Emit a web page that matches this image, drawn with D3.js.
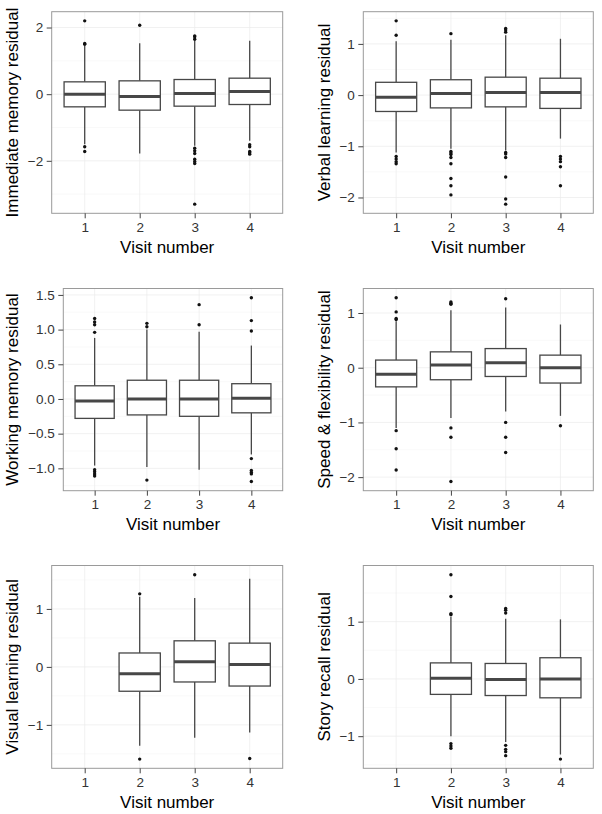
<!DOCTYPE html>
<html><head><meta charset="utf-8">
<script src="https://cdn.jsdelivr.net/npm/d3@7"></script>
<style>body{margin:0;background:#fff}svg{display:block}</style>
</head><body><svg id="c" width="602" height="814"></svg>
<script>
// ---------- DATA ----------
const visits = ["1", "2", "3", "4"];
const xTitle = "Visit number";
const panelTitles = ["Immediate memory residual", "Verbal learning residual", "Working memory residual",
  "Speed & flexibility residual", "Visual learning residual", "Story recall residual"];

// box stats: [visit, lowerWhisker, q1, median, q3, upperWhisker]
const immediateMemoryBoxes = [
  ["1", -1.50, -0.38, 0.00, 0.37, 1.45],
  ["2", -1.78, -0.48, -0.07, 0.40, 1.53],
  ["3", -1.55, -0.36, 0.02, 0.44, 1.60],
  ["4", -1.40, -0.31, 0.08, 0.48, 1.60]];
const immediateMemoryOutliers = [
  ["1", 2.20], ["1", 1.52], ["1", 1.50], ["1", -1.58], ["1", -1.72],
  ["2", 2.07],
  ["3", 1.65], ["3", 1.72], ["3", 1.75], ["3", -1.62], ["3", -1.70], ["3", -1.78], ["3", -1.95], ["3", -2.02], ["3", -2.08], ["3", -3.30],
  ["4", -1.52], ["4", -1.58], ["4", -1.72], ["4", -1.76], ["4", -1.80]];
const immediateMemoryTicks = [-2, 0, 2];

const verbalLearningBoxes = [
  ["1", -1.12, -0.32, -0.04, 0.25, 1.05],
  ["2", -1.05, -0.25, 0.03, 0.30, 1.08],
  ["3", -1.08, -0.23, 0.05, 0.35, 1.17],
  ["4", -0.85, -0.26, 0.05, 0.33, 1.10]];
const verbalLearningOutliers = [
  ["1", 1.45], ["1", 1.17], ["1", -1.20], ["1", -1.25], ["1", -1.30], ["1", -1.34],
  ["2", 1.20], ["2", -1.10], ["2", -1.13], ["2", -1.16], ["2", -1.22], ["2", -1.34], ["2", -1.63], ["2", -1.77], ["2", -1.95],
  ["3", 1.23], ["3", 1.27], ["3", 1.30], ["3", -1.12], ["3", -1.15], ["3", -1.22], ["3", -1.60], ["3", -2.03], ["3", -2.13],
  ["4", -1.20], ["4", -1.25], ["4", -1.30], ["4", -1.40], ["4", -1.77]];
const verbalLearningTicks = [-2, -1, 0, 1];

const workingMemoryBoxes = [
  ["1", -0.96, -0.28, -0.03, 0.19, 0.88],
  ["2", -0.98, -0.23, 0.00, 0.27, 1.00],
  ["3", -1.02, -0.25, 0.00, 0.27, 0.97],
  ["4", -0.80, -0.20, 0.01, 0.22, 0.77]];
const workingMemoryOutliers = [
  ["1", 0.96], ["1", 1.07], ["1", 1.11], ["1", 1.16], ["1", -1.02], ["1", -1.05], ["1", -1.08], ["1", -1.11],
  ["2", 1.04], ["2", 1.09], ["2", -1.17],
  ["3", 1.07], ["3", 1.36],
  ["4", 0.98], ["4", 1.13], ["4", 1.46], ["4", -0.86], ["4", -1.03], ["4", -1.06], ["4", -1.08], ["4", -1.19]];
const workingMemoryTicks = [-1.0, -0.5, 0.0, 0.5, 1.0, 1.5];

const speedFlexibilityBoxes = [
  ["1", -1.10, -0.35, -0.12, 0.14, 0.85],
  ["2", -0.92, -0.22, 0.05, 0.29, 1.05],
  ["3", -0.80, -0.16, 0.09, 0.35, 1.10],
  ["4", -0.88, -0.28, 0.00, 0.23, 0.79]];
const speedFlexibilityOutliers = [
  ["1", 0.88], ["1", 0.90], ["1", 1.02], ["1", 1.28], ["1", -1.15], ["1", -1.48], ["1", -1.87],
  ["2", 1.16], ["2", 1.18], ["2", 1.20], ["2", -1.10], ["2", -1.27], ["2", -2.08],
  ["3", 1.26], ["3", -1.00], ["3", -1.27], ["3", -1.55],
  ["4", -1.06]];
const speedFlexibilityTicks = [-2, -1, 0, 1];

const visualLearningBoxes = [
  ["2", -1.36, -0.42, -0.12, 0.24, 1.21],
  ["3", -1.22, -0.26, 0.09, 0.45, 1.19],
  ["4", -1.13, -0.33, 0.04, 0.41, 1.52]];
const visualLearningOutliers = [
  ["2", 1.26], ["2", -1.59],
  ["3", 1.59],
  ["4", -1.58]];
const visualLearningTicks = [-1, 0, 1];

const storyRecallBoxes = [
  ["2", -1.00, -0.27, 0.01, 0.28, 1.08],
  ["3", -1.10, -0.29, -0.01, 0.27, 1.05],
  ["4", -1.32, -0.33, 0.00, 0.37, 1.04]];
const storyRecallOutliers = [
  ["2", 1.12], ["2", 1.14], ["2", 1.44], ["2", 1.82], ["2", -1.13], ["2", -1.17], ["2", -1.21],
  ["3", 1.15], ["3", 1.20], ["3", 1.23], ["3", -1.16], ["3", -1.23], ["3", -1.27], ["3", -1.34],
  ["4", -1.40]];
const storyRecallTicks = [-1, 0, 1];

// ---------- LAYOUT ----------
const panels = [
  {title: panelTitles[0], boxes: immediateMemoryBoxes, outliers: immediateMemoryOutliers, ticks: immediateMemoryTicks, fmt: "d",
   x0: 51.7, x1: 282.7, y0: 11.7, y1: 213.3, tx: 17.5},
  {title: panelTitles[1], boxes: verbalLearningBoxes, outliers: verbalLearningOutliers, ticks: verbalLearningTicks, fmt: "d",
   x0: 363.3, x1: 593.3, y0: 11.7, y1: 213.3, tx: 330},
  {title: panelTitles[2], boxes: workingMemoryBoxes, outliers: workingMemoryOutliers, ticks: workingMemoryTicks, fmt: ".1f",
   x0: 63.3, x1: 282.7, y0: 288.5, y1: 490.7, tx: 17.5},
  {title: panelTitles[3], boxes: speedFlexibilityBoxes, outliers: speedFlexibilityOutliers, ticks: speedFlexibilityTicks, fmt: "d",
   x0: 363.3, x1: 593.3, y0: 288.5, y1: 490.7, tx: 330},
  {title: panelTitles[4], boxes: visualLearningBoxes, outliers: visualLearningOutliers, ticks: visualLearningTicks, fmt: "d",
   x0: 51.7, x1: 282.7, y0: 565.5, y1: 768.3, tx: 17.5},
  {title: panelTitles[5], boxes: storyRecallBoxes, outliers: storyRecallOutliers, ticks: storyRecallTicks, fmt: "d",
   x0: 363.3, x1: 593.3, y0: 565.5, y1: 768.3, tx: 330}
];

const svg = d3.select("#c");
const FONT = "'Liberation Sans', Arial, Helvetica, sans-serif";
const boxColor = "#474747";

panels.forEach(p => {
  const vals = [];
  p.boxes.forEach(b => { vals.push(b[1], b[5]); });
  p.outliers.forEach(o => vals.push(o[1]));
  const [mn, mx] = d3.extent(vals);
  const pad = (mx - mn) * 0.05;
  const y = d3.scaleLinear().domain([mn - pad, mx + pad]).range([p.y1, p.y0]);
  const x = d3.scalePoint().domain(visits).range([p.x0, p.x1]).padding(0.6);
  const step = x.step();
  const g = svg.append("g");

  g.append("rect").attr("x", p.x0).attr("y", p.y0).attr("width", p.x1 - p.x0).attr("height", p.y1 - p.y0)
    .attr("fill", "#fff");

  // minor grid
  const t = p.ticks, st = t[1] - t[0];
  const minors = [];
  minors.push(t[0] - st / 2);
  for (let i = 0; i < t.length - 1; i++) minors.push((t[i] + t[i + 1]) / 2);
  minors.push(t[t.length - 1] + st / 2);
  const [dlo, dhi] = y.domain();
  g.selectAll(".minor").data(minors.filter(v => v > dlo && v < dhi)).join("line")
    .attr("x1", p.x0).attr("x2", p.x1).attr("y1", d => y(d)).attr("y2", d => y(d))
    .attr("stroke", "#f5f5f5").attr("stroke-width", 0.6);
  // major grid
  g.selectAll(".major").data(t).join("line")
    .attr("x1", p.x0).attr("x2", p.x1).attr("y1", d => y(d)).attr("y2", d => y(d))
    .attr("stroke", "#ebebeb").attr("stroke-width", 0.7);
  g.selectAll(".vmajor").data(visits).join("line")
    .attr("x1", d => x(d)).attr("x2", d => x(d)).attr("y1", p.y0).attr("y2", p.y1)
    .attr("stroke", "#ebebeb").attr("stroke-width", 0.7);

  // whiskers
  p.boxes.forEach(b => {
    const cx = x(b[0]);
    g.append("line").attr("x1", cx).attr("x2", cx).attr("y1", y(b[1])).attr("y2", y(b[2]))
      .attr("stroke", boxColor).attr("stroke-width", 1.3);
    g.append("line").attr("x1", cx).attr("x2", cx).attr("y1", y(b[4])).attr("y2", y(b[5]))
      .attr("stroke", boxColor).attr("stroke-width", 1.3);
  });
  // boxes
  const bw = step * 0.75;
  g.selectAll(".box").data(p.boxes).join("rect")
    .attr("x", d => x(d[0]) - bw / 2).attr("width", bw)
    .attr("y", d => y(d[4])).attr("height", d => y(d[2]) - y(d[4]))
    .attr("fill", "#fff").attr("stroke", boxColor).attr("stroke-width", 1.3);
  g.selectAll(".med").data(p.boxes).join("line")
    .attr("x1", d => x(d[0]) - bw / 2).attr("x2", d => x(d[0]) + bw / 2)
    .attr("y1", d => y(d[3])).attr("y2", d => y(d[3]))
    .attr("stroke", boxColor).attr("stroke-width", 3);
  // outliers
  g.selectAll(".out").data(p.outliers).join("circle")
    .attr("cx", d => x(d[0])).attr("cy", d => y(d[1])).attr("r", 1.7).attr("fill", "#111");

  // border
  g.append("rect").attr("x", p.x0).attr("y", p.y0).attr("width", p.x1 - p.x0).attr("height", p.y1 - p.y0)
    .attr("fill", "none").attr("stroke", "#9a9a9a").attr("stroke-width", 1);

  // axes
  const yAxis = d3.axisLeft(y).tickValues(p.ticks).tickFormat(d3.format(p.fmt)).tickSize(5).tickPadding(3.5);
  const ya = g.append("g").attr("transform", `translate(${p.x0},0)`).call(yAxis);
  const xAxis = d3.axisBottom(x).tickSize(5).tickPadding(4);
  const xa = g.append("g").attr("transform", `translate(0,${p.y1})`).call(xAxis);
  [ya, xa].forEach(a => {
    a.select(".domain").remove();
    a.selectAll(".tick line").attr("stroke", "#444").attr("stroke-width", 1);
    a.selectAll(".tick text").attr("fill", "#333").style("font-family", FONT).style("font-size", "13.5px");
  });

  // titles
  g.append("text").attr("x", (p.x0 + p.x1) / 2).attr("y", p.y1 + 39.5)
    .attr("text-anchor", "middle").style("font-family", FONT).style("font-size", "17px").attr("fill", "#000")
    .text(xTitle);
  g.append("text").attr("transform", `translate(${p.tx},${(p.y0 + p.y1) / 2}) rotate(-90)`)
    .attr("text-anchor", "middle").style("font-family", FONT).style("font-size", "17px").attr("fill", "#000")
    .text(p.title);
});
</script>
</body></html>
